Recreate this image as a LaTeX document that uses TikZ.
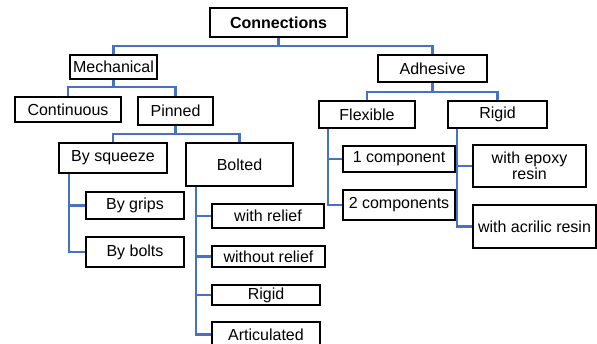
\documentclass[tikz,border=0pt]{standalone}
\usepackage{fontspec}
\setmainfont{Liberation Sans}
\usetikzlibrary{backgrounds}
\definecolor{linkblue}{HTML}{4472C4}
\begin{document}
\begin{tikzpicture}[x=1pt,y=-1pt,
  box/.style={draw=black,line width=1.8pt,fill=white,inner sep=0pt,align=center,
    font=\fontsize{16}{16}\selectfont},
  link/.style={draw=linkblue,line width=2.2pt}]
\clip (0,0) rectangle (597,343);
% nodes
\node[box,minimum width=137pt,minimum height=29pt] (conn) at (278.5,22.5) {\bfseries Connections};
\node[box,minimum width=87pt,minimum height=24pt] (mech) at (113.5,67) {Mechanical};
\node[box,minimum width=109pt,minimum height=27pt] (adh) at (432.5,68.5) {Adhesive};
\node[box,minimum width=106pt,minimum height=25pt] (cont) at (68,109.5) {Continuous};
\node[box,minimum width=75pt,minimum height=28pt] (pinned) at (175.5,111) {Pinned};
\node[box,minimum width=96pt,minimum height=27pt] (flex) at (367,114.5) {Flexible};
\node[box,minimum width=99pt,minimum height=27pt] (rigA) at (497.5,114.5) {Rigid};
\node[box,minimum width=108pt,minimum height=30pt] (squeeze) at (113,158) {By squeeze};
\node[box,minimum width=107pt,minimum height=43pt] (bolted) at (239.5,164.5) {Bolted};
\node[box,minimum width=98pt,minimum height=27pt] (grips) at (135,205.5) {By grips};
\node[box,minimum width=98pt,minimum height=30pt] (bolts) at (135,252) {By bolts};
\node[box,minimum width=112pt,minimum height=24pt] (withrel) at (268,216) {with relief};
\node[box,minimum width=113pt,minimum height=21pt] (without) at (268.5,256.5) {without relief};
\node[box,minimum width=108pt,minimum height=20pt] (rigB) at (266,295) {Rigid};
\node[box,minimum width=108pt,minimum height=25pt] (artic) at (266,334.5) {Articulated};
\node[box,minimum width=112pt,minimum height=26pt] (compA) at (399,159) {1 component};
\node[box,minimum width=112pt,minimum height=30pt] (compB) at (399,205) {2 components};
\node[box,minimum width=113pt,minimum height=42pt] (epoxy) at (529.5,166) {with epoxy\\resin};
\node[box,minimum width=123pt,minimum height=43pt] (acril) at (534.5,226.5) {with acrilic resin};
% connectors
\begin{scope}[on background layer]
\fill[white] (0,0) rectangle (597,343);
\path[link] (conn.south) -- (conn.south |- 0,46) -| (mech.north);
\path[link] (conn.south) -- (conn.south |- 0,46) -| (adh.north);
\path[link] (mech.south) -- (mech.south |- 0,87) -| (cont.north);
\path[link] (mech.south) -- (mech.south |- 0,87) -| (pinned.north);
\path[link] (adh.south) -- (adh.south |- 0,92) -| (flex.north);
\path[link] (adh.south) -- (adh.south |- 0,92) -| (rigA.north);
\path[link] (pinned.south) -- (pinned.south |- 0,134) -| (squeeze.north);
\path[link] (pinned.south) -- (pinned.south |- 0,134) -| (bolted.north);
\path[link] ([xshift=11pt]squeeze.south west) |- (grips.west);
\path[link] ([xshift=11pt]squeeze.south west) |- (bolts.west);
\path[link] ([xshift=11pt]bolted.south west) |- (withrel.west);
\path[link] ([xshift=11pt]bolted.south west) |- (without.west);
\path[link] ([xshift=11pt]bolted.south west) |- (rigB.west);
\path[link] ([xshift=11pt]bolted.south west) |- (artic.west);
\path[link] ([xshift=10pt]flex.south west) |- (compA.west);
\path[link] ([xshift=10pt]flex.south west) |- (compB.west);
\path[link] ([xshift=10pt]rigA.south west) |- (epoxy.west);
\path[link] ([xshift=10pt]rigA.south west) |- (acril.west);
\end{scope}
\end{tikzpicture}
\end{document}
